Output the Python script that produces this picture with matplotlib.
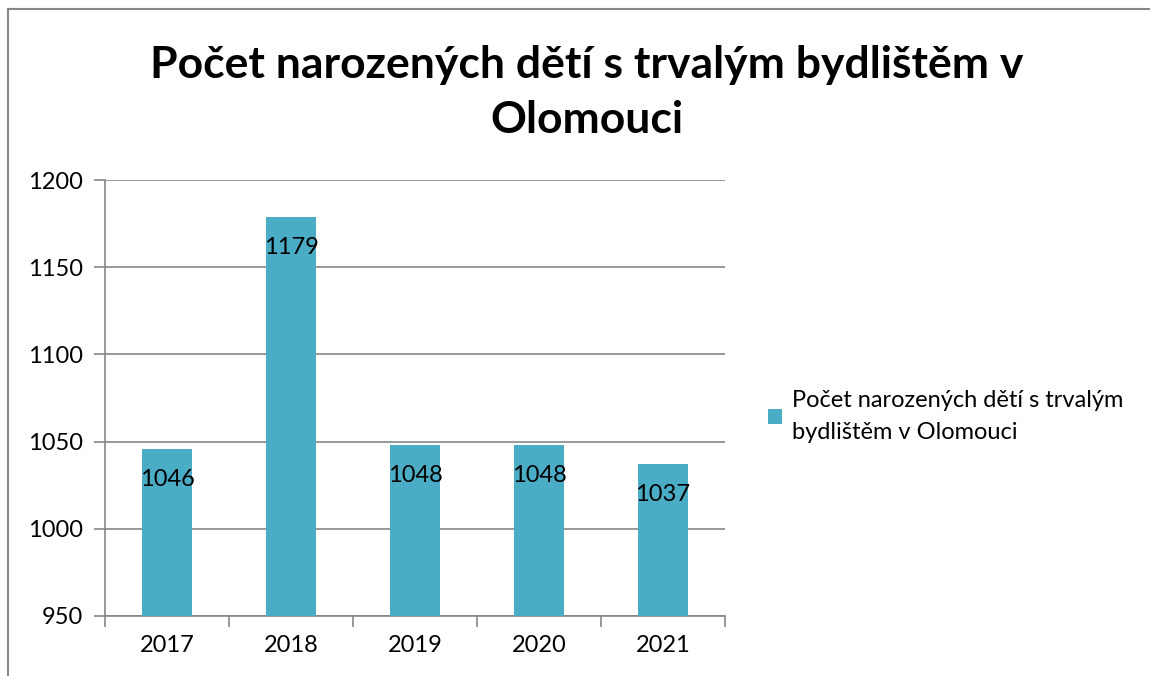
import numpy as np
import matplotlib.pyplot as plt
from matplotlib.patches import Patch
from matplotlib.lines import Line2D

plt.rcParams['font.family'] = ['Lato', 'DejaVu Sans']

years = ['2017', '2018', '2019', '2020', '2021']
births = [1046, 1179, 1048, 1048, 1037]
series_name = 'Počet narozených dětí s trvalým\nbydlištěm v Olomouci'
title = 'Počet narozených dětí s trvalým bydlištěm v\nOlomouci'

bar_color = '#4BACC6'
grid_color = '#868686'

fig = plt.figure(figsize=(11.5, 6.76), dpi=100)
ax = fig.add_axes([0.0913, 0.0888, 0.5391, 0.6449])

x = np.arange(len(years))
bars = ax.bar(x, births, width=0.4, color=bar_color, zorder=3)

ax.set_xlim(-0.5, len(years) - 0.5)
ax.set_ylim(950, 1200)
ax.set_yticks(np.arange(950, 1201, 50))
ax.yaxis.grid(True, color=grid_color, linewidth=1.2, zorder=0)

for s in ['top', 'right']:
    ax.spines[s].set_visible(False)
for s in ['left', 'bottom']:
    ax.spines[s].set_color(grid_color)
    ax.spines[s].set_linewidth(1.2)

ax.set_xticks(x)
ax.set_xticklabels(years)
ax.set_xticks(np.arange(-0.5, len(years)), minor=True)
ax.tick_params(axis='x', which='major', length=0, pad=14, labelsize=17)
ax.tick_params(axis='x', which='minor', length=8, color=grid_color, width=1.2)
ax.tick_params(axis='y', length=8, color=grid_color, width=1.2, labelsize=17, pad=8)

for xi, v in zip(x, births):
    ax.annotate(str(v), (xi, v), xytext=(0, -22), textcoords='offset points',
                ha='center', va='center', fontsize=17, zorder=4)

fig.text(0.510, 0.863, title, ha='center', va='center', fontsize=32,
         fontweight='bold', linespacing=1.45)

handle = Patch(facecolor=bar_color, edgecolor='none')
fig.legend([handle], [series_name], loc='center left',
           bbox_to_anchor=(0.668, 0.384), frameon=False, fontsize=17,
           handlelength=0.6, handleheight=0.6, handletextpad=0.4,
           borderaxespad=0, borderpad=0)
fig.legends[0].get_texts()[0].set_linespacing(1.6)

# chart frame lines on the left and top
fig.add_artist(Line2D([0.007, 0.007], [0.0, 0.987], color='#888888', linewidth=1.5,
                      transform=fig.transFigure))
fig.add_artist(Line2D([0.007, 1.0], [0.987, 0.987], color='#888888', linewidth=1.5,
                      transform=fig.transFigure))

fig.savefig('out.png', dpi=100)
